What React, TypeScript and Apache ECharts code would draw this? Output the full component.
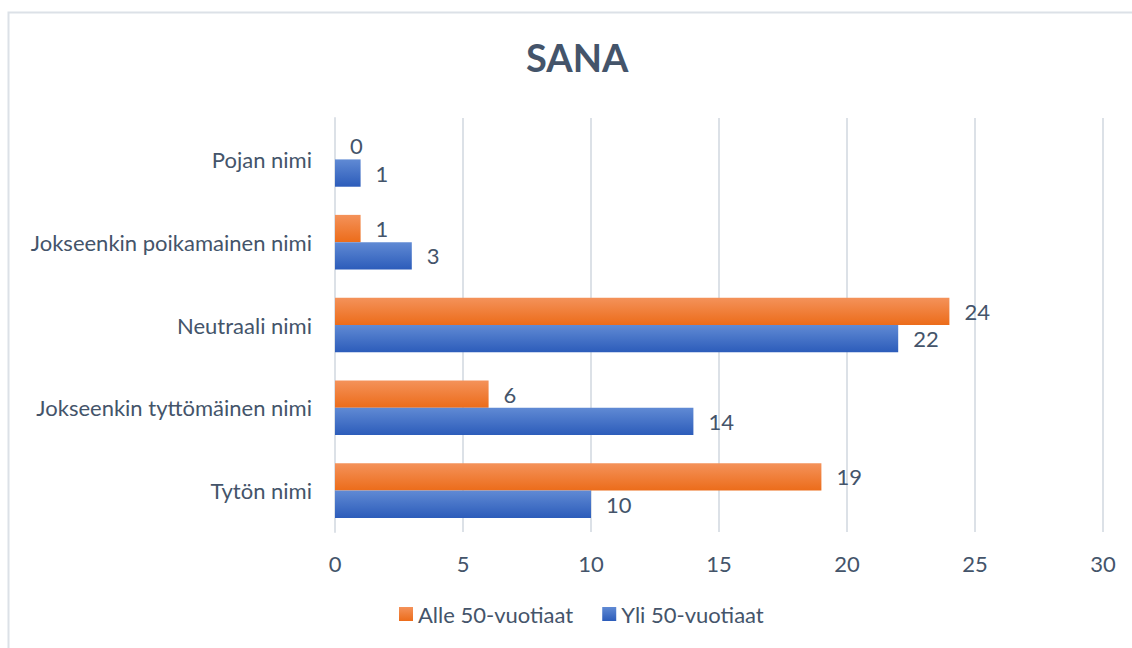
import React, { useEffect, useRef } from "react";
import * as echarts from "echarts";

const categories = [
  "Tytön nimi",
  "Jokseenkin tyttömäinen nimi",
  "Neutraali nimi",
  "Jokseenkin poikamainen nimi",
  "Pojan nimi",
];
const alle50 = [19, 6, 24, 1, 0];
const yli50 = [10, 14, 22, 3, 1];
const xTicks = { min: 0, max: 30, interval: 5 };

const TEXT = "#44546A";
const FONT = "Lato";
const FS = 22;

function grad(top: string, bottom: string) {
  return new echarts.graphic.LinearGradient(0, 0, 0, 1, [
    { offset: 0, color: top },
    { offset: 1, color: bottom },
  ]);
}

export default function App() {
  const ref = useRef<HTMLDivElement>(null);
  useEffect(() => {
    if (!ref.current) return;
    const chart = echarts.init(ref.current, undefined, { renderer: "svg" });
    const orange = grad("#F4925A", "#EC6C1A");
    const blue = grad("#608AD4", "#2C5CBA");
    const labelStyle = {
      show: true,
      position: "right" as const,
      distance: 15,
      color: TEXT,
      fontSize: FS,
      fontFamily: FONT,
    };
    chart.setOption({
      animation: false,
      backgroundColor: "#ffffff",
      textStyle: { fontFamily: FONT },
      title: {
        text: "SANA",
        left: 526,
        top: 38,
        padding: 0,
        textStyle: { color: TEXT, fontSize: 38, fontWeight: "bold", fontFamily: FONT },
      },
      graphic: [
        {
          type: "rect",
          shape: { x: 8.5, y: 12.5, width: 1140, height: 650 },
          style: { fill: "none", stroke: "#DCE1E7", lineWidth: 2 },
          silent: true,
        },
      ],
      legend: {
        bottom: 18,
        left: 394,
        padding: 5,
        itemWidth: 14,
        itemHeight: 14,
        itemGap: 29,
        icon: "rect",
        textStyle: { color: TEXT, fontSize: FS, fontFamily: FONT },
        data: [
          { name: "Alle 50-vuotiaat", itemStyle: { color: orange } },
          { name: "Yli 50-vuotiaat", itemStyle: { color: blue } },
        ],
      },
      grid: { left: 335, right: 29, top: 118, bottom: 116, containLabel: false },
      xAxis: {
        type: "value",
        min: xTicks.min,
        max: xTicks.max,
        interval: xTicks.interval,
        axisLine: { show: false },
        axisTick: { show: false },
        axisLabel: { color: TEXT, fontSize: FS, fontFamily: FONT, margin: 20 },
        splitLine: { lineStyle: { color: "#DCE1E7", width: 2 } },
      },
      yAxis: {
        type: "category",
        data: categories,
        axisLine: { show: true, lineStyle: { color: "#DCE1E7", width: 2 } },
        axisTick: { show: false },
        axisLabel: { color: TEXT, fontSize: FS, fontFamily: FONT, margin: 23 },
      },
      series: [
        {
          name: "Alle 50-vuotiaat",
          type: "bar",
          data: alle50,
          barGap: "0%",
          barCategoryGap: "34%",
          itemStyle: { color: orange },
          label: labelStyle,
        },
        {
          name: "Yli 50-vuotiaat",
          type: "bar",
          data: yli50,
          barGap: "0%",
          barCategoryGap: "34%",
          itemStyle: { color: blue },
          label: labelStyle,
        },
      ],
    });
    return () => chart.dispose();
  }, []);
  return (
    <div
      ref={ref}
      style={{ position: "fixed", left: 0, top: 0, width: 1132, height: 648 }}
    />
  );
}
